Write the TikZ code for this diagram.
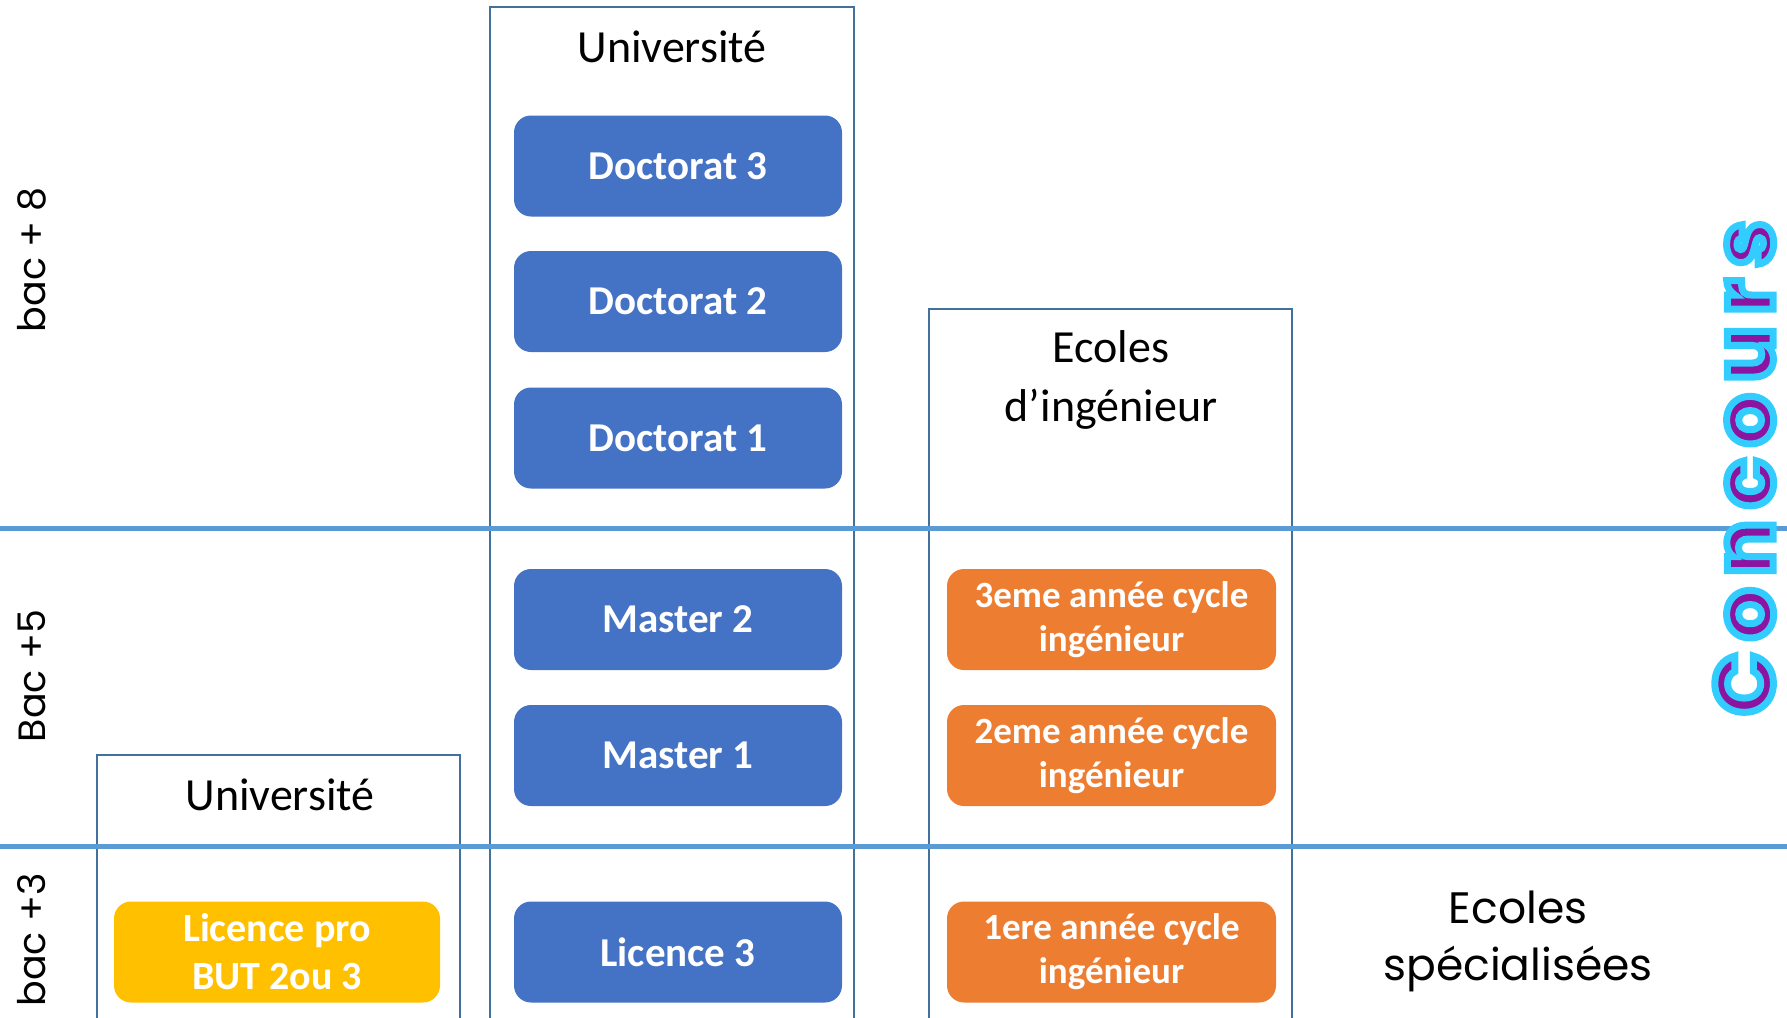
\documentclass[tikz,border=0pt]{standalone}
\usepackage{fontspec}
\setmainfont{Carlito}
\newfontfamily\geo{Poppins}
\newfontfamily\geoconc[LetterSpace=15]{Poppins}
\definecolor{framec}{RGB}{65,113,156}
\definecolor{linec}{RGB}{91,155,213}
\definecolor{blueb}{RGB}{68,114,196}
\definecolor{orangeb}{RGB}{237,125,49}
\definecolor{yellowb}{RGB}{255,192,0}
\definecolor{concpurple}{RGB}{140,20,160}
\tikzset{
  frame/.style={draw=framec, line width=2pt},
  level/.style={line width=5pt, draw=linec},
  boxbase/.style={rounded corners=17pt, inner sep=0pt, text=white, align=center,
    minimum width=328pt, minimum height=101pt},
  bluebox/.style={boxbase, fill=blueb, font=\bfseries\fontsize{41}{49}\selectfont},
  orangebox/.style={boxbase, fill=orangeb, font=\bfseries\fontsize{37}{44}\selectfont},
  yellowbox/.style={boxbase, fill=yellowb, font=\bfseries\fontsize{40}{48}\selectfont},
  title/.style={align=center, inner sep=0pt, font=\fontsize{46}{59}\selectfont},
  levellabel/.style={rotate=90, inner sep=0pt, font=\geo\fontsize{38}{46}\selectfont},
}
\begin{document}
\begin{tikzpicture}[x=1pt, y=-1pt]
\useasboundingbox (0,0) rectangle (1787,1017);
\clip (0,0) rectangle (1787,1017);
% frames
\draw[frame] (490,1030) -- (490,7) -- (854,7) -- (854,1030);
\draw[frame] (97,1030) -- (97,755) -- (460,755) -- (460,1030);
\draw[frame] (929,1030) -- (929,309) -- (1292,309) -- (1292,1030);
% level lines
\coordinate (l1a) at (0,528);
\coordinate (l1b) at (1787,528);
\coordinate (l2a) at (0,846);
\coordinate (l2b) at (1787,846);
\draw[level] (l1a) -- (l1b);
\draw[level] (l2a) -- (l2b);
% titles
\node[title] (univ) at (672,47) {Université};
\node[title] (univ2) at (280,795) {Université};
\node[title] (ecoles) at (1111,380) {Ecoles\\d’ingénieur};
\node[title, font=\geo\fontsize{44}{57}\selectfont] (spec) at (1518,941) {Ecoles\\spécialisées};
% university boxes
\node[bluebox] (d3) at (678,166) {Doctorat 3};
\node[bluebox] (d2) at (678,301.5) {Doctorat 2};
\node[bluebox] (d1) at (678,438) {Doctorat 1};
\node[bluebox] (m2) at (678,619.5) {Master 2};
\node[bluebox] (m1) at (678,755.5) {Master 1};
\node[bluebox] (l3) at (678,952) {Licence 3};
\node[yellowbox, minimum width=326pt] (lpro) at (277,952) {Licence pro\\BUT 2ou 3};
% engineering boxes
\node[orangebox, minimum width=329pt] (i3) at (1111.5,619.5) {3eme année cycle\\ingénieur};
\node[orangebox, minimum width=329pt] (i2) at (1111.5,755.5) {2eme année cycle\\ingénieur};
\node[orangebox, minimum width=329pt] (i1) at (1111.5,952) {1ere année cycle\\ingénieur};
% level labels
\node[levellabel] (b8) at (32,260) {bac + 8};
\node[levellabel] (b5) at (32,676) {Bac +5};
\node[levellabel] (b3) at (32,940) {bac +3};
% concours
\node[rotate=90, anchor=base, inner sep=0pt, text=concpurple,
  font=\geoconc\bfseries\fontsize{82}{82}\selectfont] (concours) at (1773,468)
  {\special{pdf:literal direct 2 Tr 0.2 0.8 1 RG 7 w}Concours\special{pdf:literal direct 0 Tr}};
\end{tikzpicture}
\end{document}
